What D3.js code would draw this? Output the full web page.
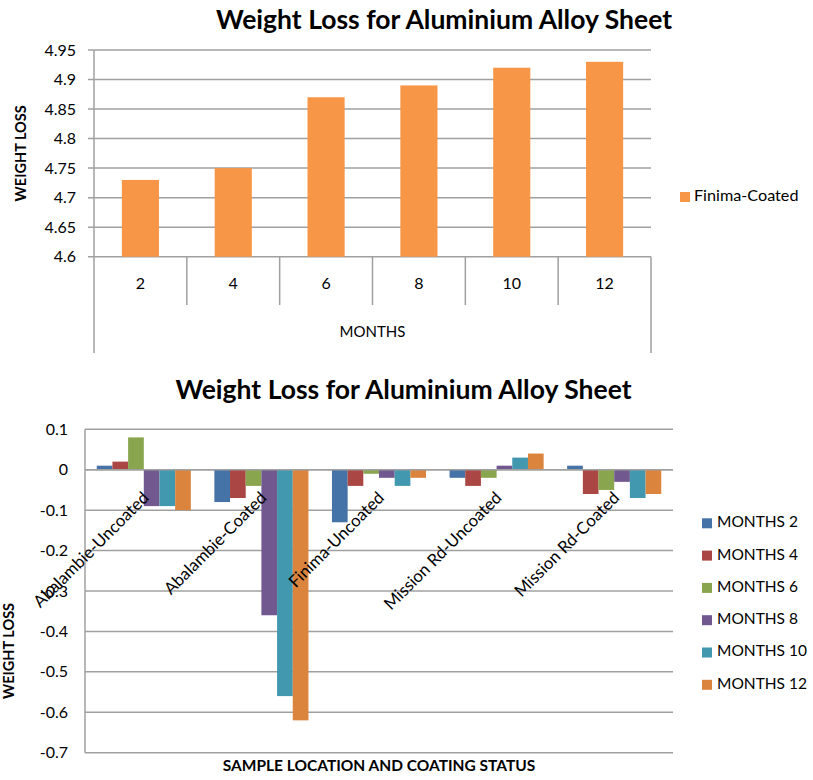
<!DOCTYPE html>
<html>
<head>
<meta charset="utf-8">
<script src="https://cdn.jsdelivr.net/npm/d3@7"></script>
<style>
  body { margin: 0; background: #fff; }
  text { font-family: Lato, "Open Sans", sans-serif; fill: #000; }
</style>
</head>
<body>
<svg id="chart" width="813" height="780"></svg>
<script>
// ---- Chart 1: Finima-Coated weight loss by month ----
const months = ["2", "4", "6", "8", "10", "12"];
const finimaCoated = [4.73, 4.75, 4.87, 4.89, 4.92, 4.93];
const topTicks = [4.6, 4.65, 4.7, 4.75, 4.8, 4.85, 4.9, 4.95];

// ---- Chart 2: weight loss per sample location and coating status ----
const sites = ["Abalambie-Uncoated", "Abalambie-Coated", "Finima-Uncoated", "Mission Rd-Uncoated", "Mission Rd-Coated"];
const seriesNames = ["MONTHS 2", "MONTHS 4", "MONTHS 6", "MONTHS 8", "MONTHS 10", "MONTHS 12"];
const months2  = [0.01, -0.08, -0.13, -0.02, 0.01];
const months4  = [0.02, -0.07, -0.04, -0.04, -0.06];
const months6  = [0.08, -0.04, -0.01, -0.02, -0.05];
const months8  = [-0.09, -0.36, -0.02, 0.01, -0.03];
const months10 = [-0.09, -0.56, -0.04, 0.03, -0.07];
const months12 = [-0.10, -0.62, -0.02, 0.04, -0.06];
const bottomTicks = [0.1, 0, -0.1, -0.2, -0.3, -0.4, -0.5, -0.6, -0.7];

const seriesValues = [months2, months4, months6, months8, months10, months12];
const seriesColors = ["#4572A7", "#AA4643", "#89A54E", "#71588F", "#4198AF", "#DB843D"];
const gridColor = "#a0a0a0";
const fmt = d => String(+d.toFixed(2)).replace("\u2212", "-");

const svg = d3.select("#chart");

// ================= Chart 1 =================
{
  const L = 94, R = 651, T = 50, B = 256.7;
  const g = svg.append("g");

  const x = d3.scaleBand().domain(months).range([L, R]).paddingInner(0.6).paddingOuter(0.3);
  const y = d3.scaleLinear().domain([4.6, 4.95]).range([B, T]);

  // title
  g.append("text").attr("x", 444).attr("y", 29).attr("text-anchor", "middle")
    .style("font-size", "26.5px").style("font-weight", "bold")
    .text("Weight Loss for Aluminium Alloy Sheet");

  // horizontal gridlines (with short outward ticks)
  g.selectAll("line.grid").data(topTicks).join("line").attr("class", "grid")
    .attr("x1", L - 6).attr("x2", R)
    .attr("y1", d => y(d)).attr("y2", d => y(d))
    .attr("stroke", gridColor).attr("stroke-width", 1.5);

  // value axis labels
  const ya = g.append("g").attr("transform", `translate(${L},0)`)
    .call(d3.axisLeft(y).tickValues(topTicks).tickFormat(fmt).tickSize(0).tickPadding(18));
  ya.select(".domain").remove();
  ya.selectAll("text").style("font-size", "16px").style("font-family", "Lato, sans-serif").attr("fill", "#000");

  // left axis line
  g.append("line").attr("x1", L).attr("x2", L).attr("y1", T).attr("y2", 353)
    .attr("stroke", gridColor).attr("stroke-width", 1.5);
  // right frame line below the category axis
  g.append("line").attr("x1", R).attr("x2", R).attr("y1", B).attr("y2", 353)
    .attr("stroke", gridColor).attr("stroke-width", 1.5);

  // category dividers
  const step = x.step();
  const bounds = months.slice(1).map(m => x(m) + x.bandwidth() / 2 - step / 2);
  g.selectAll("line.div").data(bounds).join("line").attr("class", "div")
    .attr("x1", d => d).attr("x2", d => d).attr("y1", B).attr("y2", 305)
    .attr("stroke", gridColor).attr("stroke-width", 1.5);

  // bars
  g.selectAll("rect.bar").data(months.map((m, i) => ({ m, v: finimaCoated[i] }))).join("rect")
    .attr("class", "bar")
    .attr("x", d => x(d.m)).attr("width", x.bandwidth())
    .attr("y", d => y(d.v)).attr("height", d => y(4.6) - y(d.v))
    .attr("fill", "#F79646");

  // category labels
  g.selectAll("text.cat").data(months).join("text").attr("class", "cat")
    .attr("x", d => x(d) + x.bandwidth() / 2).attr("y", 285)
    .attr("text-anchor", "middle").attr("dominant-baseline", "middle")
    .style("font-size", "16px").text(d => d);

  g.append("text").attr("x", (L + R) / 2).attr("y", 333)
    .attr("text-anchor", "middle").attr("dominant-baseline", "middle")
    .style("font-size", "15px").text("MONTHS");

  g.append("text").attr("transform", `translate(22.5,${(T + B) / 2}) rotate(-90)`)
    .attr("text-anchor", "middle").attr("dominant-baseline", "middle")
    .style("font-size", "14.5px").style("font-weight", "bold").text("WEIGHT LOSS");

  // legend
  g.append("rect").attr("x", 680).attr("y", 192).attr("width", 10).attr("height", 10).attr("fill", "#F79646");
  g.append("text").attr("x", 694).attr("y", 197).attr("dominant-baseline", "middle")
    .style("font-size", "16.2px").text("Finima-Coated");
}

// ================= Chart 2 =================
{
  const L = 85, R = 673, T = 429.3, B = 752.7;
  const g = svg.append("g");

  const x0 = d3.scaleBand().domain(sites).range([L, R]).padding(0);
  const x1 = d3.scaleBand().domain(seriesNames).range([0, x0.step()]).paddingInner(0).paddingOuter(0.75);
  const y = d3.scaleLinear().domain([-0.7, 0.1]).range([B, T]);

  g.append("text").attr("x", 403.5).attr("y", 399).attr("text-anchor", "middle")
    .style("font-size", "26.5px").style("font-weight", "bold")
    .text("Weight Loss for Aluminium Alloy Sheet");

  // gridlines
  g.selectAll("line.grid").data(bottomTicks).join("line").attr("class", "grid")
    .attr("x1", L).attr("x2", R)
    .attr("y1", d => y(d)).attr("y2", d => y(d))
    .attr("stroke", gridColor).attr("stroke-width", 1.5);

  const ya = g.append("g").attr("transform", `translate(${L},0)`)
    .call(d3.axisLeft(y).tickValues(bottomTicks).tickFormat(fmt).tickSize(0).tickPadding(17));
  ya.select(".domain").remove();
  ya.selectAll("text").style("font-size", "16px").style("font-family", "Lato, sans-serif").attr("fill", "#000");

  g.append("line").attr("x1", L).attr("x2", L).attr("y1", T).attr("y2", B)
    .attr("stroke", gridColor).attr("stroke-width", 1.5);

  // bars
  const groups = g.selectAll("g.site").data(sites).join("g").attr("class", "site")
    .attr("transform", d => `translate(${x0(d)},0)`);
  groups.selectAll("rect").data((s, si) => seriesNames.map((n, k) => ({ n, k, v: seriesValues[k][si] })))
    .join("rect")
    .attr("x", d => x1(d.n)).attr("width", x1.bandwidth())
    .attr("y", d => y(Math.max(0, d.v)))
    .attr("height", d => Math.abs(y(d.v) - y(0)))
    .attr("fill", d => seriesColors[d.k]);

  // category axis at zero
  g.append("line").attr("x1", L).attr("x2", R).attr("y1", y(0)).attr("y2", y(0))
    .attr("stroke", gridColor).attr("stroke-width", 1.5);

  // rotated category labels
  g.selectAll("text.cat").data(sites).join("text").attr("class", "cat")
    .attr("transform", d => `translate(${x0(d) + x0.bandwidth() / 2 + 2},${y(0) + 25}) rotate(-45)`)
    .attr("text-anchor", "end").attr("dy", "0.35em")
    .style("font-size", "16.8px").text(d => d);

  g.append("text").attr("x", (L + R) / 2).attr("y", 767)
    .attr("text-anchor", "middle").attr("dominant-baseline", "middle")
    .style("font-size", "15.5px").style("font-weight", "bold").text("SAMPLE LOCATION AND COATING STATUS");

  g.append("text").attr("transform", "translate(10.5,651) rotate(-90)")
    .attr("text-anchor", "middle").attr("dominant-baseline", "middle")
    .style("font-size", "14.5px").style("font-weight", "bold").text("WEIGHT LOSS");

  // legend
  const lg = g.selectAll("g.leg").data(seriesNames).join("g").attr("class", "leg")
    .attr("transform", (d, i) => `translate(702,${523.3 + i * 32.3})`);
  lg.append("rect").attr("x", 0).attr("y", -5).attr("width", 10).attr("height", 10)
    .attr("fill", (d, i) => seriesColors[i]);
  lg.append("text").attr("x", 15).attr("y", 0).attr("dominant-baseline", "middle")
    .style("font-size", "15.5px").text(d => d);
}
</script>
</body>
</html>
